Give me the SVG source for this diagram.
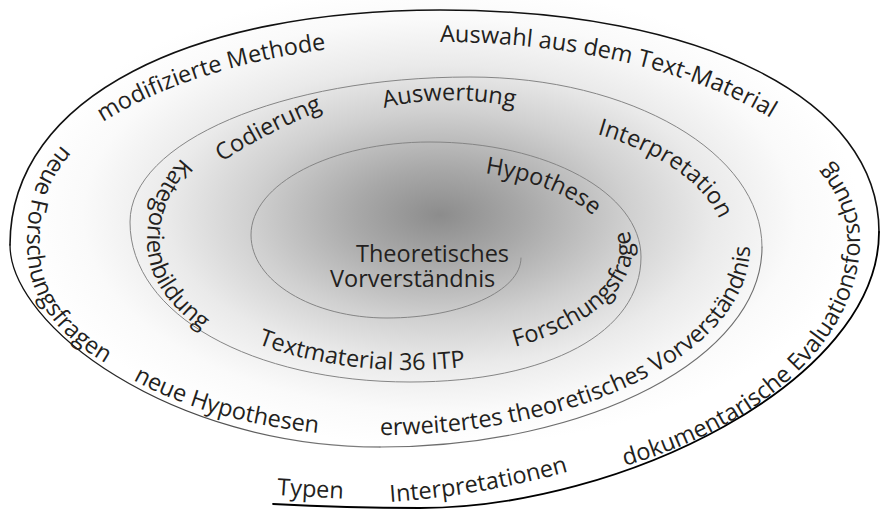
<svg xmlns="http://www.w3.org/2000/svg" xmlns:xlink="http://www.w3.org/1999/xlink" width="881" height="513" viewBox="0 0 881 513">
<style>
.lbl { font-family: "Open Sans", "Noto Sans", "DejaVu Sans", sans-serif; font-size: 23.5px; font-weight: 500; fill: #231f20; }
.sp { fill: none; stroke-linecap: round; }
.in { stroke: #858585; stroke-width: 1; }
</style>
<defs>
<radialGradient id="bg" gradientUnits="userSpaceOnUse" cx="440" cy="215" r="420" gradientTransform="translate(440 215) scale(1 0.55) translate(-440 -215)">
<stop offset="0" stop-color="#8c8c8c"/>
<stop offset="0.2" stop-color="#a8a8a8"/>
<stop offset="0.45" stop-color="#d0d0d0"/>
<stop offset="0.65" stop-color="#eaeaea"/>
<stop offset="0.85" stop-color="#fafafa"/>
<stop offset="1" stop-color="#ffffff"/>
</radialGradient>
<linearGradient id="gE" gradientUnits="userSpaceOnUse" x1="380" y1="447" x2="60" y2="330">
<stop offset="0" stop-color="#858585"/>
<stop offset="0.6" stop-color="#444"/>
<stop offset="1" stop-color="#111"/>
</linearGradient>
<path id="p1" d="M 103,122 A 420 198 0 0 1 440,42"/>
<path id="p2" d="M 440,42 A 420 198 0 0 1 860,240"/>
<path id="p3" d="M 62,145 C 35,175 27,205 27,245 C 27,300 60,340 118,370"/>
<path id="p4" d="M 182,158 C 160,180 147,210 147,240 C 147,275 165,305 210,336"/>
<path id="p5" d="M 222,162 Q 270,130 340,103"/>
<path id="p6" d="M 384,108 Q 450,92 525,109"/>
<path id="p7" d="M 597,134 A 255 130 0 0 1 725,247"/>
<path id="p8" d="M 485,173 A 185 88 0 0 1 615,257"/>
<path id="p9" d="M 515,347 A 222 110 0 0 0 632,250 A 222 110 0 0 0 608,200"/>
<path id="p10" d="M 258,344 A 265 145 0 0 0 410,370 A 230 115 0 0 0 560,342"/>
<path id="p11" d="M 380,435 A 370 188 0 0 0 750,247 A 370 188 0 0 0 738,200"/>
<path id="p12" d="M 133,380 Q 215,425 340,435"/>
<path id="p13" d="M 625,466 A 420 252 0 0 0 860,240 A 420 205 0 0 0 790,127"/>
<path id="p14" d="M 277,495 Q 305,497 350,499"/>
<path id="p15" d="M 390,502 Q 490,495 580,468"/>
</defs>
<rect x="0" y="0" width="881" height="513" fill="url(#bg)"/>
<g id="connectors">
<path class="sp in" d="M 521,258 C 521,291 461,318 387,318 C 312,318 251,281 251,235 C 251,184 331,142 430,142 C 547,142 641,193 641,257 C 641,332 549,382 410,382 C 253,382 130,315 130,222 C 130,142 282,77 470,77 C 631,77 762,153 762,247"/>
<path class="sp" stroke="#6e6e6e" stroke-width="1.1" d="M 762,247 C 762,357 591,447 380,447"/>
<path class="sp" stroke="url(#gE)" stroke-width="1.3" d="M 380,447 C 170,447 10,325 10,245"/>
<path class="sp" stroke="#111" stroke-width="1.6" d="M 10,245 C 10,95 195,10 440,10 C 703,10 879,99 879,232"/>
<path class="sp" stroke="#000" stroke-width="1.8" d="M 879,232 C 879,382 620,508 420,508 C 370,508 310,506 273,504"/>
</g>
<g id="center-label">
<text class="lbl" x="356" y="262">Theoretisches</text>
<text class="lbl" x="330" y="287">Vorverständnis</text>
</g>
<g id="label-modifizierte-methode"><text class="lbl"><textPath xlink:href="#p1" href="#p1">modifizierte Methode</textPath></text></g>
<g id="label-auswahl"><text class="lbl"><textPath xlink:href="#p2" href="#p2">Auswahl aus dem Text-Material</textPath></text></g>
<g id="label-neue-forschungsfragen"><text class="lbl"><textPath xlink:href="#p3" href="#p3">neue Forschungsfragen</textPath></text></g>
<g id="label-kategorienbildung"><text class="lbl"><textPath xlink:href="#p4" href="#p4">Kategorienbildung</textPath></text></g>
<g id="label-codierung"><text class="lbl"><textPath xlink:href="#p5" href="#p5">Codierung</textPath></text></g>
<g id="label-auswertung"><text class="lbl"><textPath xlink:href="#p6" href="#p6">Auswertung</textPath></text></g>
<g id="label-interpretation"><text class="lbl"><textPath xlink:href="#p7" href="#p7">Interpretation</textPath></text></g>
<g id="label-hypothese"><text class="lbl"><textPath xlink:href="#p8" href="#p8">Hypothese</textPath></text></g>
<g id="label-forschungsfrage"><text class="lbl"><textPath xlink:href="#p9" href="#p9">Forschungsfrage</textPath></text></g>
<g id="label-textmaterial"><text class="lbl"><textPath xlink:href="#p10" href="#p10">Textmaterial 36 ITP</textPath></text></g>
<g id="label-erweitertes"><text class="lbl"><textPath xlink:href="#p11" href="#p11">erweitertes theoretisches Vorverständnis</textPath></text></g>
<g id="label-neue-hypothesen"><text class="lbl"><textPath xlink:href="#p12" href="#p12">neue Hypothesen</textPath></text></g>
<g id="label-dokumentarische"><text class="lbl"><textPath xlink:href="#p13" href="#p13">dokumentarische Evaluationsforschung</textPath></text></g>
<g id="label-typen"><text class="lbl"><textPath xlink:href="#p14" href="#p14">Typen</textPath></text></g>
<g id="label-interpretationen"><text class="lbl"><textPath xlink:href="#p15" href="#p15">Interpretationen</textPath></text></g>
</svg>
